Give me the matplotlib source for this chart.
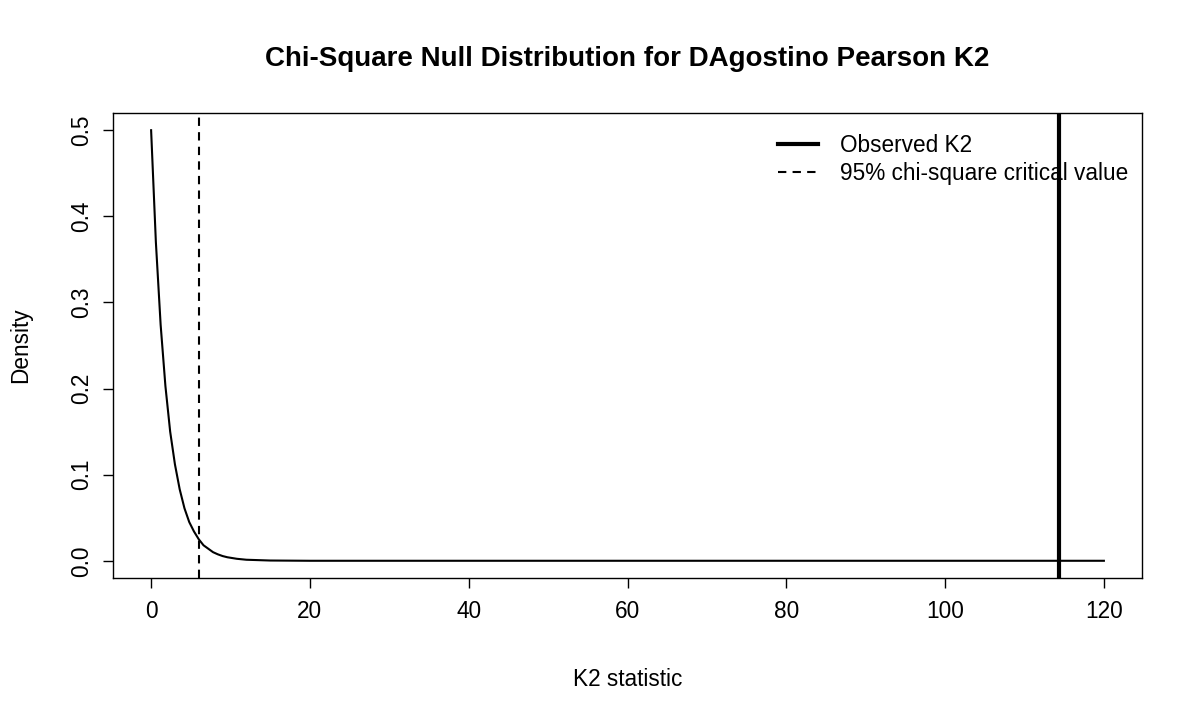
import matplotlib
matplotlib.use("Agg")
import matplotlib.pyplot as plt
from matplotlib.lines import Line2D

plt.rcParams['font.family'] = ['Liberation Sans', 'DejaVu Sans']

# density curve values
k2_x = [0, 0.6, 1.2, 1.8, 2.4, 3.0, 3.6, 4.2, 4.8, 5.4, 6.0, 6.6, 7.2, 7.8, 8.4, 9.0,
        9.6, 10.8, 12.0, 15.0, 20.0, 120.0]
density = [0.5, 0.370, 0.274, 0.203, 0.150, 0.112, 0.083, 0.061, 0.045, 0.034, 0.025,
           0.018, 0.014, 0.010, 0.0075, 0.0055, 0.0041, 0.0023, 0.0012, 0.0003, 0.0, 0.0]
observed_k2 = 114.3
critical_value = 5.99

x_ticks = [0, 20, 40, 60, 80, 100, 120]
y_ticks = [0.0, 0.1, 0.2, 0.3, 0.4, 0.5]

FS = 16.3

fig = plt.figure(figsize=(12, 7.2), dpi=100)
ax = fig.add_axes([113/1200, 1-578/720, (1142-113)/1200, (578-113)/720])

ax.plot(k2_x, density, color='black', lw=1.5, zorder=3)
ax.axvline(critical_value, color='black', lw=1.5, ls=(0, (4, 3)), zorder=3)
ax.axvline(observed_k2, color='black', lw=3, zorder=4)

ax.set_xlim(-4.8, 124.8)
ax.set_ylim(-0.02, 0.52)
ax.set_xticks(x_ticks)
ax.set_xticklabels([str(t) for t in x_ticks])
ax.set_yticks(y_ticks)
ax.set_yticklabels([f"{t:.1f}" for t in y_ticks], rotation=90, va='center')
ax.tick_params(axis='x', labelsize=FS, length=7, width=1, direction='out', pad=9)
ax.tick_params(axis='y', labelsize=FS, length=7, width=1, direction='out', pad=7)
for s in ax.spines.values():
    s.set_linewidth(1)

ax.set_title("Chi-Square Null Distribution for DAgostino Pearson K2",
             fontsize=20, fontweight='bold', pad=34)
ax.set_xlabel("K2 statistic", fontsize=FS, labelpad=32)
ax.set_ylabel("Density", fontsize=FS, labelpad=28)

handles = [Line2D([0], [0], color='black', lw=3),
           Line2D([0], [0], color='black', lw=1.5, ls=(0, (4, 3)))]
leg = ax.legend(handles, ["Observed K2", "95% chi-square critical value"],
                loc='upper right', bbox_to_anchor=(1.0, 0.985), frameon=False,
                fontsize=FS, handlelength=1.75, handletextpad=1.0, labelspacing=0.25,
                borderpad=0.3, borderaxespad=0.3)
leg.set_zorder(2)

fig.savefig("out.png", dpi=100)
